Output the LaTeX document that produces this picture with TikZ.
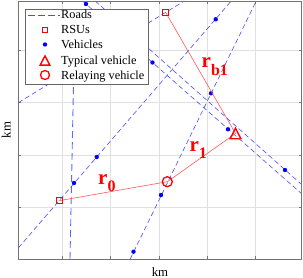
\documentclass[tikz,border=0pt]{standalone}
\usepackage{fontspec}
\setmainfont{Liberation Serif}
\begin{document}
\begin{tikzpicture}[x=1pt,y=-1pt,
  road/.style={draw=blue!70, line width=0.6pt, dash pattern=on 5pt off 3pt},
  mainroad/.style={draw=blue!60, line width=0.9pt, dash pattern=on 7pt off 4pt},
  link/.style={draw=red!65, line width=0.6pt},
  gridline/.style={draw=black!12, line width=0.5pt},
  tickline/.style={draw=black!55, line width=0.6pt},
  veh/.style={circle, fill=blue, inner sep=0pt, minimum size=4.4pt},
  rsumark/.style={rectangle, draw=red, line width=0.6pt, inner sep=0pt, minimum size=6pt},
  relaymark/.style={circle, draw=red, line width=1.3pt, inner sep=0pt, minimum size=10pt},
  trimark/.style={draw=red, line width=1.4pt, line join=miter},
  lab/.style={text=red, font=\fontsize{21}{21}\selectfont\bfseries, inner sep=0pt, anchor=base west},
  legtext/.style={font=\fontsize{12.3}{12.3}\selectfont, inner sep=0pt, anchor=base west},
  axlab/.style={font=\fontsize{12.8}{12.8}\selectfont, inner sep=0pt}
]
\useasboundingbox (0,0) rectangle (303,278);
% axes corners
\coordinate (ax1) at (18.3,1);
\coordinate (ax2) at (301.7,259);
% grid
\foreach \gx in {62.6,110.7,158.8,206.9,255.0} {
  \draw[gridline] (\gx,1) -- (\gx,259);
  \draw[tickline] (\gx,259) -- (\gx,256);
  \draw[tickline] (\gx,1) -- (\gx,4);
}
\foreach \gy in {50,102.4,154.9,207.3} {
  \draw[gridline] (18.3,\gy) -- (301.7,\gy);
  \draw[tickline] (18.3,\gy) -- (21.3,\gy);
  \draw[tickline] (301.7,\gy) -- (298.7,\gy);
}
% roads
\coordinate (L1a) at (70,259);   \coordinate (L1b) at (73.5,84);
\coordinate (L2a) at (18.3,248); \coordinate (L2b) at (231.2,1);
\coordinate (L3a) at (18.3,102.7); \coordinate (L3b) at (184.3,1);
\coordinate (L4a) at (82.6,1);   \coordinate (L4b) at (301.7,193.8);
\coordinate (L5a) at (95.2,1);   \coordinate (L5b) at (301.7,184.6);
\coordinate (L6a) at (130.2,259); \coordinate (L6b) at (256.2,1);
\begin{scope}
\clip (ax1) rectangle (ax2);
\draw[mainroad] (L1a) -- (L1b);
\draw[road] (L2a) -- (L2b);
\draw[road] (L3a) -- (L3b);
\draw[road] (L4a) -- (L4b);
\draw[road] (L5a) -- (L5b);
\draw[road] (L6a) -- (L6b);
\end{scope}
% vehicles
\node[veh] (v1) at (86,4) {};
\node[veh] (v2) at (152.5,62.5) {};
\node[veh] (v3) at (228,129.3) {};
\node[veh] (v4) at (285,170) {};
\node[veh] (v5) at (211,93.3) {};
\node[veh] (v6) at (161,195) {};
\node[veh] (v7) at (133.5,251.7) {};
\node[veh] (v8) at (215.7,19.3) {};
\node[veh] (v9) at (96.7,157) {};
\node[veh] (v10) at (74,183) {};
% links
\coordinate (tv) at (235.5,133.5);
\coordinate (rsua) at (165.7,12.4);
\coordinate (rsub) at (59,200.7);
\coordinate (relay) at (167.3,181.7);
\draw[link] (rsua) -- (tv);
\draw[link] (rsub) -- (relay);
\draw[link] (relay) -- (tv);
% markers
\node[rsumark] (rsu1) at (rsua) {};
\node[rsumark] (rsu2) at (rsub) {};
\node[relaymark] (rv) at (relay) {};
\draw[trimark] (tv) ++(0,-5.3) -- ++(5.4,10.6) -- ++(-10.8,0) -- cycle;
% labels
\node[lab] (lrb1) at (201.5,68) {r\raisebox{-8pt}{\fontsize{16}{16}\selectfont b1}};
\node[lab] (lr0) at (98,184.3) {r\raisebox{-7.5pt}{\fontsize{16}{16}\selectfont 0}};
\node[lab] (lr1) at (189.3,151.7) {r\raisebox{-7pt}{\fontsize{16}{16}\selectfont 1}};
% axes box
\draw[draw=black!55, line width=0.7pt] (ax1) rectangle (ax2);
% axis labels
\node[axlab, anchor=base] (xl) at (160,276) {km};
\node[axlab, anchor=base, rotate=90] (yl) at (10.5,130) {km};
% legend
\node[draw=black!60, fill=white, line width=0.7pt, minimum width=123.3pt, minimum height=75pt, inner sep=0pt] (leg) at (86.65,46.5) {};
\coordinate (lg1a) at (28,15); \coordinate (lg1b) at (60,15);
\draw[road, dash pattern=on 6.5pt off 3.5pt] (lg1a) -- (lg1b);
\node[legtext] (t1) at (61,19) {Roads};
\node[rsumark, minimum size=5.5pt] (m2) at (45,30) {};
\node[legtext] (t2) at (61,34) {RSUs};
\node[veh] (m3) at (45,44.5) {};
\node[legtext] (t3) at (61,49) {Vehicles};
\coordinate (m4) at (45,60.5);
\draw[trimark] (m4) ++(0,-4.6) -- ++(4.8,9.2) -- ++(-9.6,0) -- cycle;
\node[legtext] (t4) at (61,64.5) {Typical vehicle};
\node[relaymark, minimum size=9pt] (m5) at (45,75) {};
\node[legtext] (t5) at (61,79.5) {Relaying vehicle};
\end{tikzpicture}
\end{document}
